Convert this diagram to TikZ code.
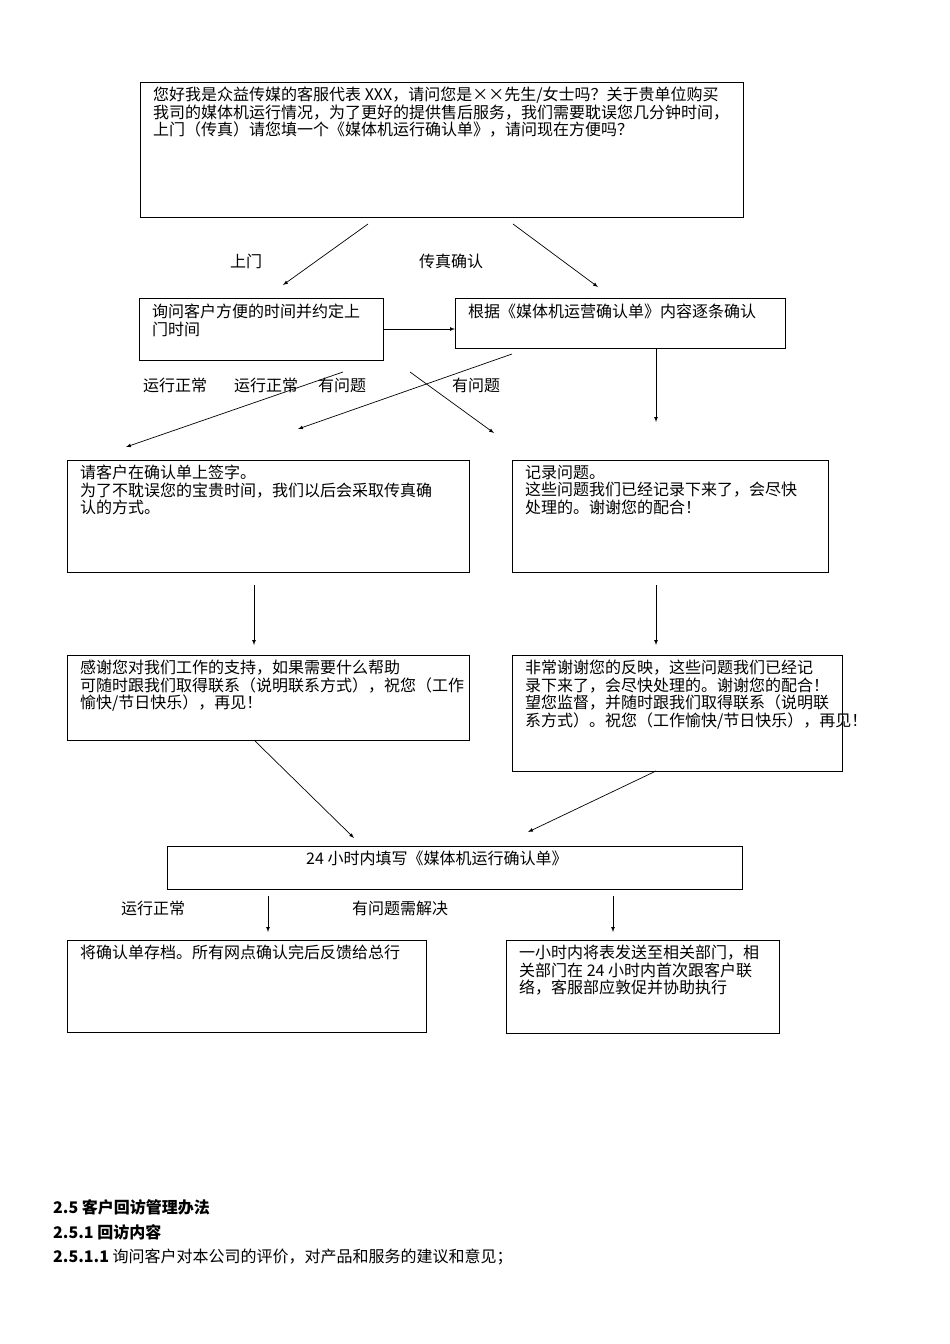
\documentclass[tikz,border=0pt]{standalone}
\usepackage{fontspec}
\setmainfont{Liberation Serif}
\newfontfamily\cjk{Noto Sans CJK SC}
\begin{document}
\begin{tikzpicture}[x=1pt,y=-1pt,
 box/.style={draw,line width=0.8pt},
 txt/.style={anchor=north west,inner sep=0pt,align=left,font=\cjk\fontsize{16}{17.5}\selectfont},
 lab/.style={inner sep=0pt,font=\cjk\fontsize{16}{17.5}\selectfont},
 arr/.style={-latex,line width=0.7pt}]
\useasboundingbox (0,0) rectangle (950,1344);
\draw[box] (140,82) rectangle (743,217); \node[txt] (t0) at (153,87) {您好我是众益传媒的客服代表 XXX，请问您是××先生/女士吗？关于贵单位购买\\我司的媒体机运行情况，为了更好的提供售后服务，我们需要耽误您几分钟时间，\\上门（传真）请您填一个《媒体机运行确认单》，请问现在方便吗？};
\draw[box] (139,298) rectangle (383,360); \node[txt] at (152,304) {询问客户方便的时间并约定上\\门时间};
\draw[box] (455,298) rectangle (785,348); \node[txt] at (468,304) {根据《媒体机运营确认单》内容逐条确认};
\draw[box] (67,460) rectangle (469,572); \node[txt] at (80,465) {请客户在确认单上签字。\\为了不耽误您的宝贵时间，我们以后会采取传真确\\认的方式。};
\draw[box] (512,460) rectangle (828,572); \node[txt] at (525,465) {记录问题。\\这些问题我们已经记录下来了，会尽快\\处理的。谢谢您的配合！};
\draw[box] (67,655) rectangle (469,740); \node[txt] at (80,660) {感谢您对我们工作的支持，如果需要什么帮助\\可随时跟我们取得联系（说明联系方式），祝您（工作\\愉快/节日快乐），再见！};
\draw[box] (512,655) rectangle (842,771); \node[txt] at (525,660) {非常谢谢您的反映，这些问题我们已经记\\录下来了，会尽快处理的。谢谢您的配合！\\望您监督，并随时跟我们取得联系（说明联\\系方式）。祝您（工作愉快/节日快乐），再见！};
\draw[box] (167,846) rectangle (742,889); \node[txt] at (306,851) {24 小时内填写《媒体机运行确认单》};
\draw[box] (67,940) rectangle (426,1032); \node[txt] at (80,945) {将确认单存档。所有网点确认完后反馈给总行};
\draw[box] (506,940) rectangle (779,1033); \node[txt] at (519,945) {一小时内将表发送至相关部门，相\\关部门在 24 小时内首次跟客户联\\络，客服部应敦促并协助执行};
\coordinate (a1) at (368,224); \coordinate (a2) at (283,285);
\coordinate (b1) at (513,224); \coordinate (b2) at (598,287);
\draw[arr] (a1) -- (a2); \draw[arr] (b1) -- (b2);
\coordinate (c1) at (383,329); \coordinate (c2) at (455,329); \draw[arr] (c1) -- (c2);
\coordinate (d1) at (656,348); \coordinate (d2) at (656,422); \draw[arr] (d1) -- (d2);
\coordinate (e1) at (343,372); \coordinate (e2) at (126,447); \draw[arr] (e1) -- (e2);
\coordinate (f1) at (512,354); \coordinate (f2) at (298,429); \draw[arr] (f1) -- (f2);
\coordinate (g1) at (410,372); \coordinate (g2) at (494,433); \draw[arr] (g1) -- (g2);
\coordinate (h1) at (254,585); \coordinate (h2) at (254,645); \draw[arr] (h1) -- (h2);
\coordinate (i1) at (656,585); \coordinate (i2) at (656,645); \draw[arr] (i1) -- (i2);
\coordinate (j1) at (254,740); \coordinate (j2) at (354,838); \draw[arr] (j1) -- (j2);
\coordinate (k1) at (656,771); \coordinate (k2) at (528,832); \draw[arr] (k1) -- (k2);
\coordinate (l1) at (268,896); \coordinate (l2) at (268,932); \draw[arr] (l1) -- (l2);
\coordinate (m1) at (613,896); \coordinate (m2) at (613,932); \draw[arr] (m1) -- (m2);
\node[lab] at (246,261) {上门}; \node[lab] at (451,261) {传真确认};
\node[lab] at (175,385) {运行正常}; \node[lab] at (266,385) {运行正常};
\node[lab] at (342,385) {有问题}; \node[lab] at (476,385) {有问题};
\node[lab] at (153,908) {运行正常}; \node[lab] at (400,908) {有问题需解决};
\node[lab,anchor=west] at (53,1207) {\bfseries 2.5 客户回访管理办法};
\node[lab,anchor=west] at (53,1232) {\bfseries 2.5.1 回访内容};
\node[lab,anchor=west] at (53,1257) {\textbf{2.5.1.1} 询问客户对本公司的评价，对产品和服务的建议和意见；};
\end{tikzpicture}
\end{document}
